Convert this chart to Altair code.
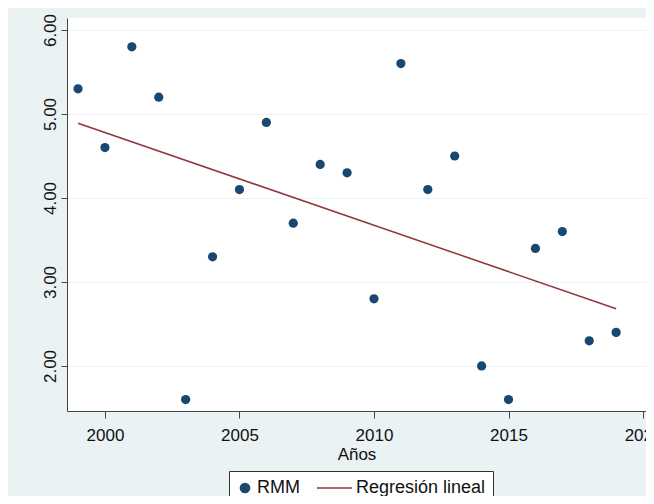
import altair as alt
import pandas as pd

anios = list(range(1999, 2020))
rmm = [5.3, 4.6, 5.8, 5.2, 1.6, 3.3, 4.1, 4.9, 3.7, 4.4, 4.3,
       2.8, 5.6, 4.1, 4.5, 2.0, 1.6, 3.4, 3.6, 2.3, 2.4]
series = ["RMM", "Regresión lineal"]
colores = ["#1a476f", "#90353b"]
formas = ["circle", "stroke"]
tamanos = [85, 1225]
x_ticks = [2000, 2005, 2010, 2015, 2020]
y_ticks = [2, 3, 4, 5, 6]

df = pd.DataFrame({"anio": anios, "rmm": rmm})

FONT = "Liberation Sans"
xs = alt.Scale(domain=[1998.59, 2020.11], nice=False, zero=False)
ys = alt.Scale(domain=[1.464, 6.143], nice=False, zero=False)

x_axis = alt.Axis(values=x_ticks, format="d", title="Años", grid=False,
                  labelFlush=False, labelOverlap=False, labelBound=False,
                  tickSize=7, labelPadding=9, titlePadding=3,
                  labelFontSize=17, titleFontSize=17, titleFontWeight="normal",
                  labelFont=FONT, titleFont=FONT, labelColor="#111", titleColor="#111",
                  domainColor="#444", tickColor="#444")
y_axis = alt.Axis(values=y_ticks, format=".2f", title=None, grid=True,
                  gridColor="#eaf2f3", gridWidth=1,
                  labelAngle=-90, labelAlign="center", labelBaseline="bottom",
                  labelFlush=False, labelOverlap=False, labelBound=False,
                  tickSize=6, labelPadding=2,
                  labelFontSize=17, labelFont=FONT, labelColor="#111",
                  domainColor="#444", tickColor="#444")

color_scale = alt.Scale(domain=series, range=colores)
legend = alt.Legend(title=None, orient="none", legendX=162, legendY=453,
                    direction="horizontal", strokeColor="#333", fillColor="white",
                    padding=7, labelFontSize=18, labelFont=FONT, labelColor="#111",
                    labelOffset=3, columnPadding=16, symbolStrokeWidth=1.5,
                    clipHeight=20, cornerRadius=0)

puntos = alt.Chart(df).transform_calculate(serie="'RMM'").mark_point(
    filled=True, opacity=1, strokeWidth=0
).encode(
    x=alt.X("anio:Q", scale=xs, axis=x_axis),
    y=alt.Y("rmm:Q", scale=ys, axis=y_axis),
    color=alt.Color("serie:N", scale=color_scale, legend=legend),
    stroke=alt.Stroke("serie:N", scale=alt.Scale(domain=series, range=colores), legend=legend),
    shape=alt.Shape("serie:N", scale=alt.Scale(domain=series, range=formas), legend=legend),
    size=alt.Size("serie:N", scale=alt.Scale(domain=series, range=tamanos), legend=legend),
)

recta = alt.Chart(df).transform_regression("anio", "rmm").transform_calculate(
    serie="'Regresión lineal'"
).mark_line(strokeWidth=1.5).encode(
    x=alt.X("anio:Q", scale=xs),
    y=alt.Y("rmm:Q", scale=ys),
    color=alt.Color("serie:N", scale=color_scale, legend=legend),
)

chart = alt.layer(puntos, recta).properties(
    width=579, height=393,
    autosize=alt.AutoSizeParams(type="none"),
    padding={"left": 59, "top": 10, "right": 0, "bottom": 85},
    background="#eaf2f3",
).configure_view(fill="white", stroke=None)

chart.save("out.html", embed_options={"renderer": "svg", "actions": False})
